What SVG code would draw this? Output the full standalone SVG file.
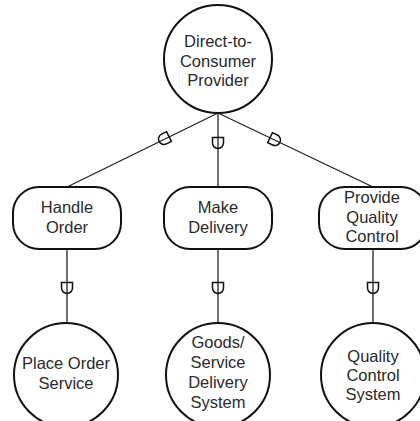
<svg xmlns="http://www.w3.org/2000/svg" width="420" height="421" viewBox="0 0 420 421">
  <style>
    .node { fill: #ffffff; stroke: #111111; stroke-width: 2; }
    .edge { fill: none; stroke: #222222; stroke-width: 1.3; }
    .sock { fill: none; stroke: #111111; stroke-width: 1.5; }
    text { font-family: "Liberation Sans", Arial, sans-serif; font-size: 16.5px; fill: #2a2a2a; text-anchor: middle; }
  </style>
  <defs>
    <!-- socket glyph: flat side faces the parent, rounded side the child -->
    <path id="socket" d="M -5.5,-5.5 H 5.5 V 0 A 5.5 5.5 0 0 1 -5.5,0 Z"/>
  </defs>
  <rect width="420" height="421" fill="#ffffff"/>

  <g id="connectors">
    <line class="edge" x1="218" y1="113" x2="67" y2="187"/>
    <line class="edge" x1="218" y1="113" x2="218" y2="187"/>
    <line class="edge" x1="218" y1="113" x2="373" y2="187"/>
    <line class="edge" x1="67" y1="249" x2="67" y2="323"/>
    <line class="edge" x1="218" y1="249" x2="218" y2="323"/>
    <line class="edge" x1="373" y1="249" x2="373" y2="323"/>
    <use href="#socket" class="sock" transform="translate(164,139) rotate(63.9)"/>
    <use href="#socket" class="sock" transform="translate(218,143)"/>
    <use href="#socket" class="sock" transform="translate(275,140) rotate(-64.5)"/>
    <use href="#socket" class="sock" transform="translate(67,288)"/>
    <use href="#socket" class="sock" transform="translate(218,288)"/>
    <use href="#socket" class="sock" transform="translate(373,288)"/>
  </g>

  <g id="provider">
    <circle class="node" cx="218" cy="59" r="54"/>
    <text x="218" y="47">Direct-to-</text>
    <text x="218" y="67">Consumer</text>
    <text x="218" y="86">Provider</text>
  </g>

  <g id="handle-order">
    <rect class="node" x="13" y="187" width="108" height="62" rx="26" ry="26"/>
    <text x="67" y="213">Handle</text>
    <text x="67" y="233">Order</text>
  </g>

  <g id="make-delivery">
    <rect class="node" x="164" y="187" width="108" height="62" rx="26" ry="26"/>
    <text x="218" y="213">Make</text>
    <text x="218" y="233">Delivery</text>
  </g>

  <g id="provide-quality-control">
    <rect class="node" x="319" y="187" width="108" height="62" rx="26" ry="26"/>
    <text x="372" y="203">Provide</text>
    <text x="372" y="223">Quality</text>
    <text x="372" y="242">Control</text>
  </g>

  <g id="place-order-service">
    <circle class="node" cx="66" cy="375" r="52"/>
    <text x="66" y="369">Place Order</text>
    <text x="66" y="389">Service</text>
  </g>

  <g id="delivery-system">
    <circle class="node" cx="218" cy="375" r="52"/>
    <text x="218" y="348">Goods/</text>
    <text x="218" y="368">Service</text>
    <text x="218" y="388">Delivery</text>
    <text x="218" y="408">System</text>
  </g>

  <g id="quality-control-system">
    <circle class="node" cx="373" cy="375" r="52"/>
    <text x="373" y="362">Quality</text>
    <text x="373" y="381">Control</text>
    <text x="373" y="400">System</text>
  </g>
</svg>
